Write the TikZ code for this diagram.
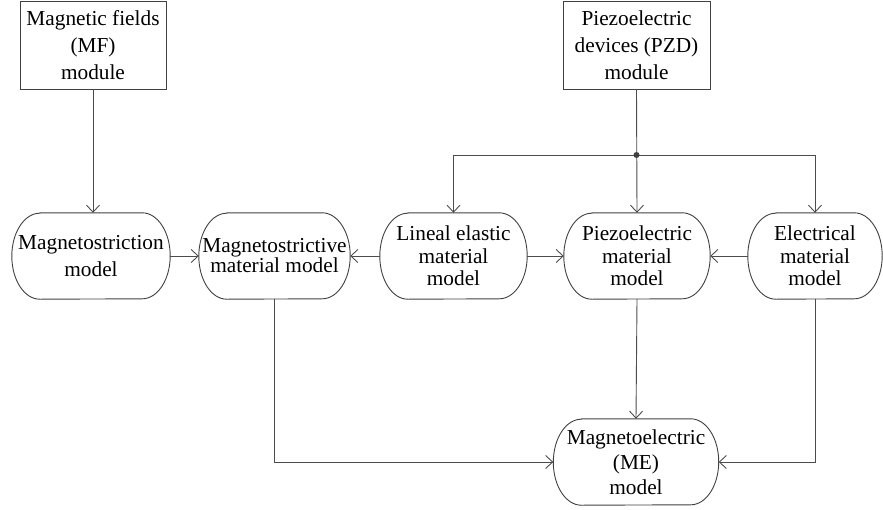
\documentclass[tikz,border=0pt]{standalone}
\usepackage{fontspec}
\setmainfont{Liberation Serif}
\usetikzlibrary{arrows.meta,calc}
\begin{document}
\begin{tikzpicture}[x=1pt,y=-1pt,
  every node/.style={inner sep=0pt, align=center, font=\fontsize{21.3}{22.5}\selectfont},
  sqbox/.style={draw=black!75, line width=0.9pt, minimum height=88pt},
  rbox/.style={minimum height=86pt},
  outline/.style={draw=black!75, line width=0.9pt},
  conn/.style={draw=black!70, line width=0.9pt},
  arr/.style={conn, -{Straight Barb[length=7pt,width=13pt,line width=0.9pt]}},
  wide/.style={font=\fontsize{21.3}{27}\selectfont},
  mid/.style={font=\fontsize{21.3}{25}\selectfont}
]
\useasboundingbox (0,0) rectangle (883,509);
% top modules
\node[sqbox, wide, minimum width=146pt] (mf) at (93,45) {Magnetic fields\\(MF)\\module};
\node[sqbox, wide, minimum width=147pt] (pzd) at (636.5,45) {Piezoelectric\\devices (PZD)\\module};
% row of models
\node[rbox, wide, minimum width=158pt] (n1) at (91,256) {Magnetostriction\\model};
\node[rbox, font=\fontsize{21.3}{20}\selectfont, minimum width=151pt] (n2) at (274.5,256) {Magnetostrictive\\material model};
\node[rbox, minimum width=147pt] (n3) at (453.5,256) {Lineal elastic\\material\\model};
\node[rbox, minimum width=146pt] (n4) at (637,256) {Piezoelectric\\material\\model};
\node[rbox, minimum width=134pt] (n5) at (815,256) {Electrical\\material\\model};
% ME model
\node[rbox, mid, minimum width=165pt] (me) at (636,462) {Magnetoelectric\\(ME)\\model};
% stadium outlines with elliptic ends
\foreach \n in {n1,n2,n3,n4,n5,me}{
  \draw[outline] ($(\n.north west)+(28,0)$) -- ($(\n.north east)+(-28,0)$)
    arc[start angle=-90,end angle=90,x radius=28,y radius=43]
    -- ($(\n.south west)+(28,0)$)
    arc[start angle=90,end angle=270,x radius=28,y radius=43] -- cycle;
}
% junction
\coordinate (j) at (pzd.south |- 0,155);
\coordinate (jl) at (n3.north |- j);
\coordinate (jr) at (n5.north |- j);
% connectors
\draw[arr] (mf.south) -- (mf.south |- n1.north);
\draw[arr] (pzd.south) -- (n4.north);
\draw[arr] (j) -- (jl) -- (n3.north);
\draw[arr] (j) -- (jr) -- (n5.north);
\fill[black!75] (j) circle (3pt);
\draw[arr] (n1.east) -- (n2.west);
\draw[arr] (n3.west) -- (n2.east);
\draw[arr] (n3.east) -- (n4.west);
\draw[arr] (n5.west) -- (n4.east);
\draw[arr] (n2.south) |- (me.west);
\draw[arr] (n4.south) -- (me.north);
\draw[arr] (n5.south) |- (me.east);
\end{tikzpicture}
\end{document}
